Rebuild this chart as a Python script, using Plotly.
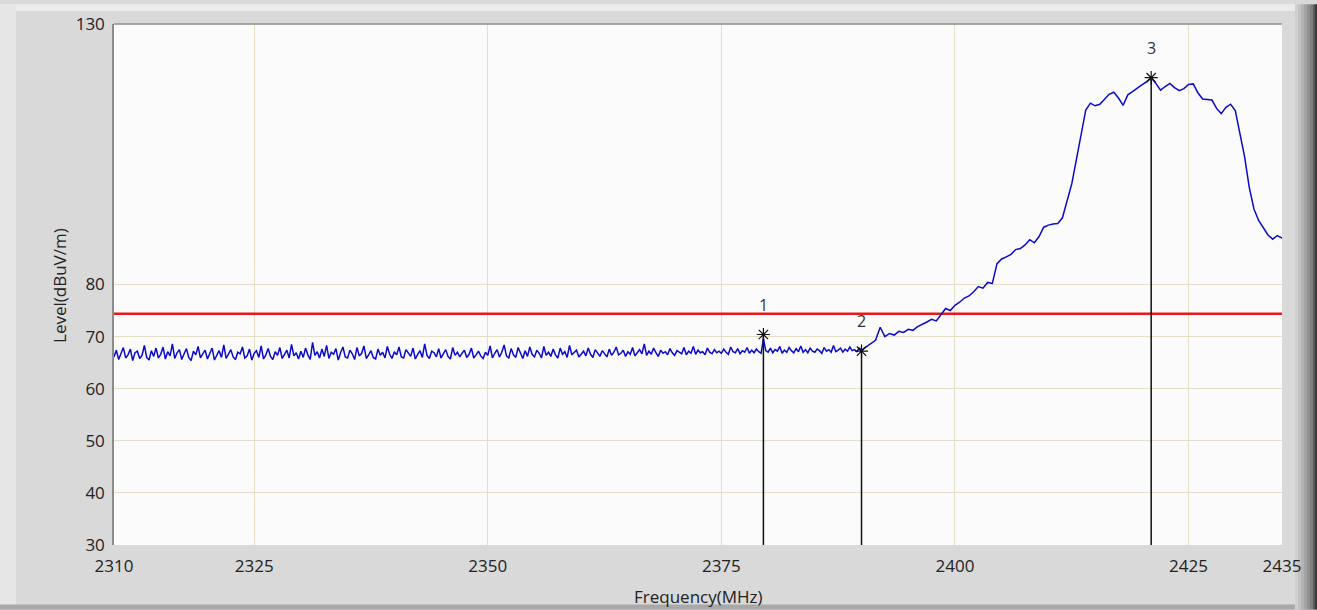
import plotly.graph_objects as go

# ---------------- data ----------------
# noise floor segment: 2310 .. 2389.75 MHz, step 0.25 MHz
noise_start, noise_step = 2310.0, 0.25
noise_level = [
    66.1, 67.4, 65.6, 66.8, 67.9, 65.9, 66.5, 67.6, 65.4, 66.9,
    67.2, 65.8, 66.4, 68.3, 66.0, 65.5, 67.3, 66.2, 67.8, 65.9,
    66.6, 68.0, 65.7, 67.1, 66.3, 68.6, 65.8, 66.9, 67.5, 65.6,
    66.8, 67.7, 66.0, 65.4, 67.2, 66.5, 68.1, 65.9, 66.7, 67.4,
    65.7, 66.9, 67.8, 65.5, 66.4, 67.3, 66.0, 68.4, 65.8, 66.6,
    67.5, 66.1, 65.6, 67.0, 66.7, 68.0, 65.9, 66.3, 67.6, 65.5,
    66.8, 67.3, 66.0, 68.2, 65.7, 66.5, 67.7, 66.2, 65.6, 67.1,
    66.4, 67.9, 65.8, 66.6, 67.4, 65.9, 68.5, 66.3, 66.9, 65.7,
    67.2, 66.0, 67.8, 66.5, 65.6, 68.9, 66.4, 67.1, 65.9, 67.6,
    66.2, 68.3, 65.8, 67.0, 66.6, 67.7, 65.5, 66.9, 68.0, 66.1,
    65.9, 67.4, 66.7, 65.6, 67.9, 66.3, 66.8, 68.2, 65.8, 66.5,
    67.3, 66.0, 65.7, 67.6, 66.4, 67.0, 65.9, 68.1, 66.6, 65.8,
    67.1, 66.5, 68.0, 66.1, 65.9, 67.5, 66.8, 66.2, 67.8, 65.7,
    66.6, 67.3, 66.0, 68.6, 66.4, 65.8, 67.2, 66.9, 66.1, 67.7,
    65.9, 66.7, 67.5, 66.2, 65.7, 67.9, 66.4, 67.0, 66.1, 66.8,
    67.4, 66.0, 66.6, 67.8, 65.9, 66.5, 67.2, 66.3, 65.8, 67.0,
    66.4, 68.2, 65.9, 66.8, 67.5, 66.1, 67.0, 68.4, 66.3, 65.9,
    67.7, 66.5, 66.0, 67.9, 66.7, 65.8, 67.3, 66.2, 68.0, 66.6,
    66.1, 67.4, 66.8, 65.9, 68.1, 66.4, 67.0, 66.2, 67.6, 66.5,
    65.9, 67.8, 66.6, 67.1, 66.0, 68.3, 66.5, 66.9, 67.4, 66.1,
    66.7, 67.2, 66.3, 67.8, 66.6, 66.0, 67.5, 66.9, 66.2, 67.3,
    66.8, 66.1, 67.6, 66.4, 67.0, 68.0, 66.5, 66.8, 67.4, 66.2,
    67.1, 66.6, 67.9, 66.3, 66.9, 67.5, 66.7, 68.6, 66.4, 67.2,
    66.6, 67.8, 66.9, 66.2, 67.4, 66.8, 67.1, 66.5, 67.7, 66.9,
    66.4, 67.3, 67.0, 66.7, 67.9, 66.5, 67.2, 66.8, 68.1, 66.6,
    67.4, 66.9, 67.1, 66.5, 67.8, 67.0, 66.7, 67.5, 66.9, 67.2,
    66.8, 67.6, 67.0, 66.6, 68.0, 67.1, 66.9, 67.7, 66.7, 67.3,
    67.0, 67.9, 66.8, 67.4, 66.9, 67.6, 67.1, 66.8, 69.6, 67.3,
    67.0, 67.8, 66.9, 67.5, 67.2, 68.1, 66.8, 67.4, 67.0, 67.9,
    67.3, 66.9, 67.7, 67.1, 68.2, 67.0, 67.5, 66.9, 67.8, 67.2,
    67.0, 67.6, 67.3, 66.8, 67.9, 67.2, 67.5, 67.0, 68.3, 67.1,
    67.4, 67.8, 67.0, 67.6, 67.2, 68.0, 67.3, 67.5, 67.1, 67.8,
]

# emission segment: 2390 .. 2435 MHz, step 0.5 MHz
signal_start, signal_step = 2390.0, 0.5
signal_level = [
    67.4, 68.0, 68.6, 69.3, 71.8, 70.0, 70.6, 70.3, 71.0, 70.8,
    71.4, 71.2, 71.9, 72.3, 72.8, 73.3, 73.0, 74.2, 75.4, 75.0,
    76.0, 76.6, 77.4, 77.8, 78.6, 79.6, 79.3, 80.4, 80.2, 84.0,
    84.9, 85.3, 85.8, 86.7, 86.9, 87.6, 88.6, 88.0, 89.2, 91.0,
    91.4, 91.6, 91.7, 92.8, 96.0, 99.3, 104.0, 108.5, 113.5, 114.8,
    114.3, 114.6, 115.6, 116.5, 116.9, 115.8, 114.4, 116.4, 117.0, 117.7,
    118.3, 118.9, 119.7, 118.6, 117.3, 118.0, 118.6, 117.8, 117.2, 117.6,
    118.4, 118.5, 116.8, 115.6, 115.5, 115.4, 113.8, 112.8, 114.0, 114.6,
    113.4, 108.6, 104.5, 98.6, 94.5, 92.3, 90.8, 89.5, 88.7, 89.4,
    88.9,
]

freq = ([noise_start + i * noise_step for i in range(len(noise_level))] +
        [signal_start + i * signal_step for i in range(len(signal_level))])
level = noise_level + signal_level

limit_level = 74.4

marker_names = ["1", "2", "3"]
marker_freq = [2379.5, 2390.0, 2421.0]
marker_level = [70.4, 67.2, 119.7]

x_ticks = [2310, 2325, 2350, 2375, 2400, 2425, 2435]
y_ticks = [30, 40, 50, 60, 70, 80, 130]

x_range = [2310, 2435]
y_range = [30, 130]

# ---------------- figure ----------------
FONT = "Open Sans, Liberation Sans, Arial, sans-serif"
fig = go.Figure()

# limit line
fig.add_trace(go.Scatter(
    x=[x_range[0], x_range[1]], y=[limit_level, limit_level],
    mode="lines", line=dict(color="#e8181c", width=2.5),
    hoverinfo="skip", showlegend=False))

# spectrum trace
fig.add_trace(go.Scatter(
    x=freq, y=level, mode="lines",
    line=dict(color="#0a0ac8", width=1.5),
    showlegend=False))

# marker drop lines
for mf, ml in zip(marker_freq, marker_level):
    fig.add_trace(go.Scatter(
        x=[mf, mf], y=[y_range[0], ml], mode="lines",
        line=dict(color="#111111", width=1.5),
        hoverinfo="skip", showlegend=False))

# marker symbols
fig.add_trace(go.Scatter(
    x=marker_freq, y=marker_level, mode="markers",
    marker=dict(symbol="asterisk-open", size=11, color="#111111",
                line=dict(color="#111111", width=1.2)),
    showlegend=False))

# marker labels
for name, mf, ml in zip(marker_names, marker_freq, marker_level):
    fig.add_annotation(x=mf, y=ml, text=name, showarrow=False,
                       yshift=30, font=dict(family=FONT, size=16, color="#333333"))

W, H = 1317, 610
L, R, T, B = 114, 1282, 20, 545
pw, ph = R - L, B - T


def px(x):
    return (x - L) / pw


def py(y):
    return (B - y) / ph


# window frame decorations (paper coordinates)
shapes = [
    dict(type="rect", xref="paper", yref="paper", x0=px(0), x1=px(1296),
         y0=py(7), y1=py(0), fillcolor="#ebebeb", line=dict(width=0), layer="below"),
    dict(type="rect", xref="paper", yref="paper", x0=px(0), x1=px(16),
         y0=py(606), y1=py(0), fillcolor="#e6e6e6", line=dict(width=0), layer="below"),
    dict(type="rect", xref="paper", yref="paper", x0=px(0), x1=px(1317),
         y0=py(610), y1=py(605), fillcolor="#a8a8a8", line=dict(width=0), layer="below"),
    dict(type="line", xref="paper", yref="paper", x0=0, x1=1, y0=1, y1=1,
         line=dict(color="#8c8c8c", width=1.5)),
]
grad = [(1295, "#cfcfcf"), (1298, "#c2c2c2"), (1301, "#b3b3b3"), (1304, "#a3a3a3"),
        (1307, "#929292"), (1310, "#7e7e7e"), (1313, "#5a5a5a"), (1315, "#3a3a3a")]
for i, (x0, col) in enumerate(grad):
    x1 = grad[i + 1][0] if i + 1 < len(grad) else 1317
    shapes.append(dict(type="rect", xref="paper", yref="paper",
                       x0=px(x0), x1=px(x1), y0=py(610), y1=py(0),
                       fillcolor=col, line=dict(width=0), layer="below"))

fig.add_annotation(xref="paper", yref="paper", x=0.5, y=py(597),
                   text="Frequency(MHz)", showarrow=False,
                   font=dict(family=FONT, size=17, color="#222222"),
                   xanchor="center", yanchor="middle")
fig.add_annotation(xref="paper", yref="paper", x=px(60), y=py(284),
                   text="Level(dBuV/m)", showarrow=False, textangle=-90,
                   font=dict(family=FONT, size=17, color="#222222"),
                   xanchor="center", yanchor="middle")

fig.update_layout(
    width=W, height=H,
    margin=dict(l=L, r=W - R, t=T, b=H - B, pad=0),
    paper_bgcolor="#d9d9d9",
    plot_bgcolor="#fbfbfb",
    shapes=shapes,
    showlegend=False,
    xaxis=dict(range=x_range, tickvals=x_ticks, ticktext=[str(v) for v in x_ticks],
               showgrid=True, gridcolor="#e4dfc6", gridwidth=1,
               zeroline=False, showline=False,
               ticks="outside", ticklen=6, tickcolor="rgba(0,0,0,0)",
               tickfont=dict(family=FONT, size=17, color="#222222")),
    yaxis=dict(range=y_range, tickvals=y_ticks, ticktext=[str(v) for v in y_ticks],
               showgrid=True, gridcolor="#e4dfc6", gridwidth=1,
               zeroline=False, showline=True, linecolor="#8c8c8c", linewidth=1.5,
               ticks="outside", ticklen=4, tickcolor="rgba(0,0,0,0)",
               tickfont=dict(family=FONT, size=17, color="#222222")),
)

fig.write_html("out.html")
